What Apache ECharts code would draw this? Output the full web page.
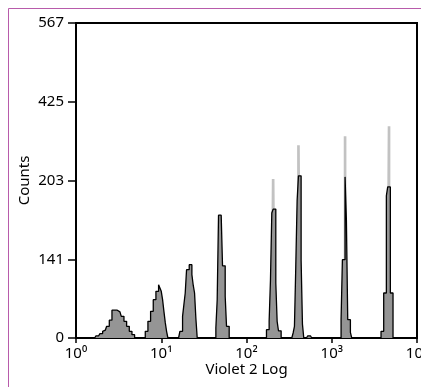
<html>
<head>
<meta charset="utf-8">
<script src="https://cdn.jsdelivr.net/npm/echarts@6/dist/echarts.min.js"></script>
<style>
  body { margin: 0; background: #fff; }
  #main { width: 421px; height: 387px; }
</style>
</head>
<body>
<div id="main"></div>
<script>
// 256 log channels over 4 decades (64 per decade)
var channelsPerDecade = 64;
var channelCount = 256;

// black/grey histogram, one array per peak with its first channel
var peakStarts = [14, 52, 78, 105, 143, 163, 174, 199, 229];
var peakCounts = [
    [2, 4, 4, 4, 8, 8, 12, 14, 14, 21, 21, 32, 32, 50, 50, 50, 50, 50, 47, 47, 39, 39, 30, 30, 21, 21, 12, 12, 6, 6],
    [12, 12, 30, 30, 48, 48, 69, 69, 84, 84, 96, 90, 84, 69, 48, 28, 12],
    [12, 12, 39, 60, 81, 123, 123, 132, 132, 114, 95, 81, 35],
    [18, 69, 221, 221, 221, 130, 130, 75, 21, 21],
    [15, 15, 30, 105, 225, 232, 232, 99, 30, 13, 13],
    [9, 21, 129, 247, 292, 292, 140, 25],
    [4, 4, 4],
    [33, 141, 141, 290, 212, 33, 33, 10],
    [12, 12, 81, 81, 256, 272, 272, 81, 81]
];

// light grey overlay, visible only above the main peaks
var overlayChannels = [147, 148, 149, 166, 167, 168, 201, 202, 234, 235];
var overlayCounts = [286, 286, 286, 347, 347, 347, 363, 363, 381, 381];

var yTickLabels = ['0', '141', '203', '425', '567'];
var xTickLabels = ['10\u2070', '10\u00b9', '10\u00b2', '10\u00b3', '10\u2074'];
var yMax = 567;

function emptyChannels() {
    var arr = [];
    for (var i = 0; i < channelCount; i++) arr.push(0);
    return arr;
}

var main = emptyChannels();
peakStarts.forEach(function (s, k) {
    peakCounts[k].forEach(function (v, j) { main[s + j] = v; });
});
var overlay = emptyChannels();
overlayChannels.forEach(function (c, k) { overlay[c] = overlayCounts[k]; });

function stepPoints(counts) {
    var pts = [];
    for (var c = 0; c < counts.length; c++) {
        pts.push([Math.pow(10, c / channelsPerDecade), counts[c]]);
        pts.push([Math.pow(10, (c + 1) / channelsPerDecade), counts[c]]);
    }
    return pts;
}

var font = 'Noto Sans';
var chart = echarts.init(document.getElementById('main'));
chart.setOption({
    animation: false,
    textStyle: { fontFamily: font },
    graphic: [{
        type: 'rect',
        shape: { x: 8.5, y: 8.5, width: 430, height: 400 },
        style: { fill: 'none', stroke: '#b85bab', lineWidth: 1 },
        silent: true
    }],
    grid: {
        left: 76, right: 4, top: 23, bottom: 49,
        containLabel: false,
        outerBoundsMode: 'none',
        show: true, borderColor: '#000', borderWidth: 2
    },
    xAxis: {
        type: 'log',
        logBase: 10,
        min: 1,
        max: 10000,
        name: 'Violet 2 Log',
        nameLocation: 'middle',
        nameGap: 24,
        nameMoveOverlap: false,
        nameTextStyle: { fontSize: 15, color: '#000', fontFamily: font },
        axisLine: { lineStyle: { color: '#000', width: 2 } },
        axisTick: { show: true, length: 5, lineStyle: { color: '#000', width: 1.5 } },
        minorTick: { show: false },
        splitLine: { show: false },
        axisLabel: {
            fontSize: 15, color: '#000', margin: 8, fontFamily: font,
            formatter: function (v) {
                return xTickLabels[Math.round(Math.log10(v))];
            }
        }
    },
    yAxis: {
        type: 'value',
        min: 0,
        max: yMax,
        interval: yMax / 4,
        name: 'Counts',
        nameLocation: 'middle',
        nameGap: 44,
        nameMoveOverlap: false,
        nameTextStyle: { fontSize: 15, color: '#000', fontFamily: font },
        axisLine: { show: true, lineStyle: { color: '#000', width: 2 } },
        axisTick: { show: true, length: 8, lineStyle: { color: '#000', width: 1.5 } },
        splitLine: { show: false },
        axisLabel: {
            fontSize: 15, color: '#000', margin: 12, fontFamily: font,
            formatter: function (v) {
                return yTickLabels[Math.round(v / (yMax / 4))];
            }
        }
    },
    series: [
        {
            type: 'line',
            data: stepPoints(overlay),
            showSymbol: false,
            lineStyle: { width: 0, color: '#c2c2c2' },
            areaStyle: { color: '#c2c2c2', opacity: 1 },
            z: 1
        },
        {
            type: 'line',
            data: stepPoints(main),
            showSymbol: false,
            lineStyle: { width: 1.3, color: '#000' },
            areaStyle: { color: '#959595', opacity: 1 },
            z: 2
        }
    ]
});
</script>
</body>
</html>
